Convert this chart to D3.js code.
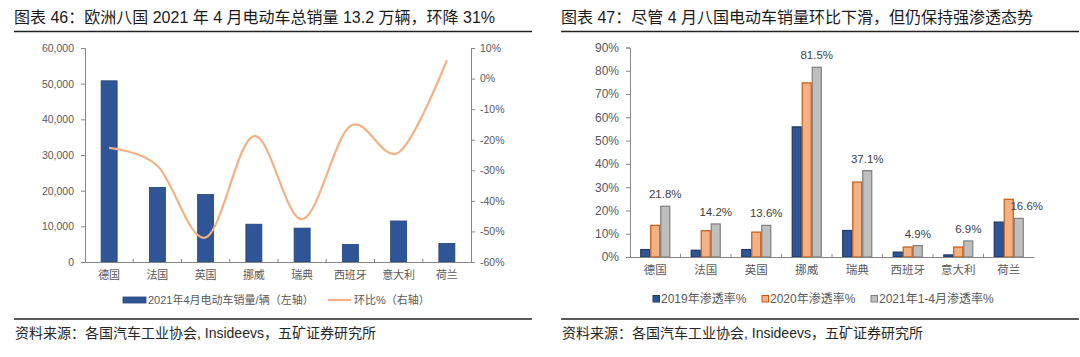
<!DOCTYPE html>
<html><head><meta charset="utf-8">
<script src="https://cdn.jsdelivr.net/npm/d3@7/dist/d3.min.js"></script>
<style>
html,body{margin:0;padding:0;background:#fff;}
svg{display:block;font-family:"Liberation Sans",Arial,"Noto Sans CJK SC",sans-serif;}
</style></head>
<body><svg id="c" width="1080" height="357"></svg>
<script>
// ---- data ----
const categories = ["德国","法国","英国","挪威","瑞典","西班牙","意大利","荷兰"];
const sales = [50800, 20900, 18900, 10600, 9500, 4900, 11500, 5200];       // 2021年4月电动车销量/辆
const momPct = [-22.7, -28.5, -52.0, -18.8, -46.0, -15.5, -24.2, 6.0];      // 环比%
const pen2019 = [3.2, 2.9, 3.2, 55.9, 11.4, 2.1, 0.9, 15.0];
const pen2020 = [13.6, 11.3, 10.7, 74.8, 32.2, 4.3, 4.3, 24.8];
const pen2021 = [21.8, 14.2, 13.6, 81.5, 37.1, 4.9, 6.9, 16.6];
const leftTicks = [0,10000,20000,30000,40000,50000,60000];
const rightTicksL = [-60,-50,-40,-30,-20,-10,0,10];
const penTicks = [0,10,20,30,40,50,60,70,80,90];
const title1 = "图表 46：欧洲八国 2021 年 4 月电动车总销量 13.2 万辆，环降 31%";
const title2 = "图表 47：尽管 4 月八国电动车销量环比下滑，但仍保持强渗透态势";
const source = "资料来源：各国汽车工业协会, Insideevs，五矿证券研究所";
const legend1 = ["2021年4月电动车销量/辆（左轴）","环比%（右轴）"];
const legend2 = ["2019年渗透率%","2020年渗透率%","2021年1-4月渗透率%"];

const svg = d3.select("#c");
const axisCol = "#868686", txtCol = "#595959";
const navy = "#2F5597", navyStroke = "#23437a", lineCol = "#F5B183";
const pFill = ["#2F5597","#F4B183","#BFBFBF"], pStroke = ["#203864","#C55A11","#7F7F7F"];

function frame(x0, x1, title){
  svg.append("text").attr("x", x0).attr("y", 23).attr("font-size", 16).attr("fill", "#1a1a1a").text(title);
  svg.append("line").attr("x1", x0).attr("x2", x1).attr("y1", 31.5).attr("y2", 31.5).attr("stroke", "#222").attr("stroke-width", 1.3);
  svg.append("line").attr("x1", x0).attr("x2", x1).attr("y1", 319).attr("y2", 319).attr("stroke", "#222").attr("stroke-width", 1.3);
  svg.append("text").attr("x", x0+1).attr("y", 338).attr("font-size", 14).attr("fill", "#262626").text(source);
}
function styleAxis(g, fs){
  g.select(".domain").attr("stroke", axisCol);
  g.selectAll(".tick line").attr("stroke", axisCol);
  g.selectAll(".tick text").attr("fill", txtCol).attr("font-size", fs).attr("font-family", null);
  g.attr("font-family", null);
}

// ================= LEFT CHART =================
frame(14, 532, title1);
const L = {x0: 85, x1: 471, y0: 262, y1: 48};
const xL = d3.scaleBand().domain(categories).range([L.x0, L.x1]);
const yL = d3.scaleLinear().domain([0, 60000]).range([L.y0, L.y1]);
const yR = d3.scaleLinear().domain([-60, 10]).range([L.y0, L.y1]);

const gl = svg.append("g");
// bars
const bwL = 16;
gl.selectAll("rect.s").data(sales).join("rect")
  .attr("x", (d,i) => xL(categories[i]) + xL.bandwidth()/2 - bwL/2)
  .attr("y", d => yL(d)).attr("width", bwL).attr("height", d => yL(0) - yL(d))
  .attr("fill", navy).attr("stroke", navyStroke).attr("stroke-width", 0.8);

// axes
const axL = gl.append("g").attr("transform", `translate(${L.x0},0)`)
  .call(d3.axisLeft(yL).tickValues(leftTicks).tickSize(4).tickPadding(7).tickFormat(d3.format(",")));
styleAxis(axL, 10.5);
const axR = gl.append("g").attr("transform", `translate(${L.x1},0)`)
  .call(d3.axisRight(yR).tickValues(rightTicksL).tickSize(4).tickPadding(5).tickFormat(d => d + "%"));
styleAxis(axR, 10.5);
// x axis (category ticks between bands, pointing up)
const axB = gl.append("g").attr("transform", `translate(0,${L.y0})`)
  .call(d3.axisBottom(xL).tickSize(0).tickPadding(9));
styleAxis(axB, 11);
axB.selectAll(".tick text").attr("dy", "0.71em");
categories.slice(1).forEach(c => {
  gl.append("line").attr("x1", xL(c)).attr("x2", xL(c)).attr("y1", L.y0).attr("y2", L.y0 - 3).attr("stroke", axisCol);
});

// line
const line = d3.line()
  .x((d,i) => xL(categories[i]) + xL.bandwidth()/2)
  .y(d => yR(d))
  .curve(d3.curveCatmullRom.alpha(0));
gl.append("path").datum(momPct).attr("d", line).attr("fill", "none")
  .attr("stroke", lineCol).attr("stroke-width", 2.2);

// legend
const lgY = 300;
gl.append("rect").attr("x", 123).attr("y", lgY - 3).attr("width", 23).attr("height", 6)
  .attr("fill", navy).attr("stroke", navyStroke).attr("stroke-width", 0.8);
gl.append("text").attr("x", 148).attr("y", lgY + 4).attr("font-size", 11).attr("fill", txtCol).text(legend1[0]);
gl.append("line").attr("x1", 328).attr("x2", 351).attr("y1", lgY).attr("y2", lgY).attr("stroke", lineCol).attr("stroke-width", 2.2);
gl.append("text").attr("x", 354).attr("y", lgY + 4).attr("font-size", 11).attr("fill", txtCol).text(legend1[1]);

// ================= RIGHT CHART =================
frame(561, 1079, title2);
const R = {x0: 630, x1: 1034, y0: 257, y1: 47.5};
const xP = d3.scaleBand().domain(categories).range([R.x0, R.x1]);
const yP = d3.scaleLinear().domain([0, 90]).range([R.y0, R.y1]);
const groupW = 30;
const xSub = d3.scaleBand().domain([0,1,2]).range([0, groupW]);
const gr = svg.append("g");
const series = [pen2019, pen2020, pen2021];
series.forEach((vals, s) => {
  gr.selectAll(null).data(vals).join("rect")
    .attr("x", (d,i) => xP(categories[i]) + xP.bandwidth()/2 - groupW/2 + xSub(s) + 0.5)
    .attr("y", d => yP(d)).attr("width", xSub.bandwidth() - 1).attr("height", d => yP(0) - yP(d))
    .attr("fill", pFill[s]).attr("stroke", pStroke[s]).attr("stroke-width", 1.2);
});
// value labels on 2021 series
gr.selectAll("text.v").data(pen2021).join("text")
  .attr("x", (d,i) => xP(categories[i]) + xP.bandwidth()/2 - groupW/2 + xSub(2) + xSub.bandwidth()/2 + (i === 7 ? 8 : 0))
  .attr("y", d => yP(d) - 8).attr("text-anchor", "middle")
  .attr("font-size", 11.5).attr("fill", "#404040").text(d => d.toFixed(1) + "%");

const axP = gr.append("g").attr("transform", `translate(${R.x0},0)`)
  .call(d3.axisLeft(yP).tickValues(penTicks).tickSize(4).tickPadding(7).tickFormat(d => d + "%"));
styleAxis(axP, 12);
const axPB = gr.append("g").attr("transform", `translate(0,${R.y0})`)
  .call(d3.axisBottom(xP).tickSize(0).tickPadding(9));
styleAxis(axPB, 11.5);
axPB.selectAll(".tick text").attr("dy", "0.71em");
categories.slice(1).forEach(c => {
  gr.append("line").attr("x1", xP(c)).attr("x2", xP(c)).attr("y1", R.y0).attr("y2", R.y0 - 3).attr("stroke", axisCol);
});

// legend
const lg2X = [653, 762, 871];
legend2.forEach((t, s) => {
  gr.append("rect").attr("x", lg2X[s]).attr("y", 295.5).attr("width", 6.5).attr("height", 6.5)
    .attr("fill", pFill[s]).attr("stroke", pStroke[s]).attr("stroke-width", 1);
  gr.append("text").attr("x", lg2X[s] + 8).attr("y", 303).attr("font-size", 12).attr("fill", txtCol).text(t);
});
</script></body></html>
